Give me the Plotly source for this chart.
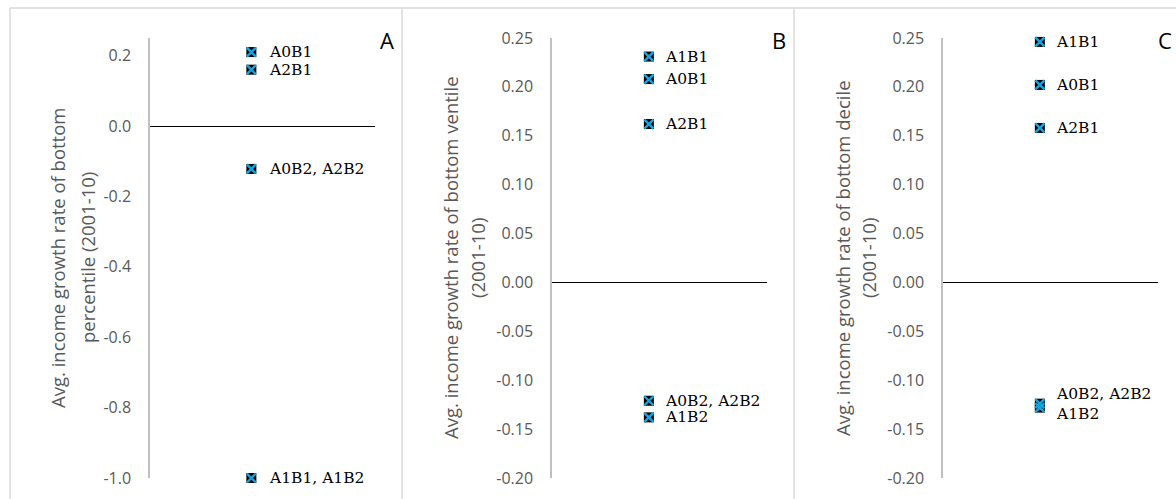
import plotly.graph_objects as go

# ---------------- data ----------------
panel_letters = ["A", "B", "C"]

a_labels = ["A0B1", "A2B1", "A0B2, A2B2", "A1B1, A1B2"]
a_values = [0.21, 0.16, -0.122, -1.0]

b_labels = ["A1B1", "A0B1", "A2B1", "A0B2, A2B2", "A1B2"]
b_values = [0.231, 0.208, 0.162, -0.121, -0.138]

c_labels = ["A1B1", "A0B1", "A2B1", "A0B2, A2B2<br>A1B2", ""]
c_values = [0.246, 0.202, 0.158, -0.124, -0.128]

a_ticks = [-1.0, -0.8, -0.6, -0.4, -0.2, 0.0, 0.2]
bc_ticks = [-0.20, -0.15, -0.10, -0.05, 0.00, 0.05, 0.10, 0.15, 0.20, 0.25]

title_lines = [
    ["Avg. income growth rate of bottom", "percentile (2001-10)"],
    ["Avg. income growth rate of bottom ventile", "(2001-10)"],
    ["Avg. income growth rate of bottom decile", "(2001-10)"],
]

# ---------------- layout helpers ----------------
W, H = 1176, 499
def px(x):
    return x / W
def py(y):
    return 1 - y / H

TICK_FONT = dict(family="Open Sans", size=16, color="#595959")
TITLE_FONT = dict(family="Open Sans", size=18.5, color="#595959")
LABEL_FONT = dict(family="DejaVu Serif", size=15.5, color="#000000")
BLUE = "#12A5E4"

panels = [
    dict(labels=a_labels, values=a_values, ticks=a_ticks, fmt="{:.1f}", rng=[-1.0, 0.25],
         ax0=150, ax1=375, title_xs=[57, 87], letter_x=387, shift=16),
    dict(labels=b_labels, values=b_values, ticks=bc_ticks, fmt="{:.2f}", rng=[-0.20, 0.25],
         ax0=552, ax1=767, title_xs=[450, 477], letter_x=779, shift=14),
    dict(labels=c_labels, values=c_values, ticks=bc_ticks, fmt="{:.2f}", rng=[-0.20, 0.25],
         ax0=943, ax1=1158, title_xs=[842, 868], letter_x=1165, shift=14),
]

fig = go.Figure()
annotations = []
layout_axes = {}

for i, p in enumerate(panels):
    n = i + 1
    xa = "x" if n == 1 else f"x{n}"
    ya = "y" if n == 1 else f"y{n}"
    xs = [1] * len(p["values"])
    fig.add_trace(go.Scatter(x=xs, y=p["values"], mode="markers", xaxis=xa, yaxis=ya,
                             marker=dict(symbol="square", size=10, color="black",
                                         line=dict(width=0)),
                             cliponaxis=False, showlegend=False, hoverinfo="skip"))
    fig.add_trace(go.Scatter(x=xs, y=p["values"], mode="markers", xaxis=xa, yaxis=ya,
                             marker=dict(symbol="x-thin", size=9,
                                         line=dict(width=2.4, color=BLUE)),
                             cliponaxis=False, showlegend=False, hoverinfo="skip"))
    for lab, v in zip(p["labels"], p["values"]):
        if not lab:
            continue
        annotations.append(dict(x=1, y=v, xref=xa, yref=ya, text=lab, showarrow=False,
                                xanchor="left", yanchor="middle", xshift=p["shift"],
                                font=LABEL_FONT, align="left"))
    ticktext = []
    for t in p["ticks"]:
        s = p["fmt"].format(round(t, 2) + 0.0)
        if s.startswith("-") and float(s) == 0:
            s = s[1:]
        ticktext.append(s)
    key = "" if n == 1 else str(n)
    layout_axes["xaxis" + key] = dict(domain=[px(p["ax0"]), px(p["ax1"])], range=[0, 2.22],
                                      visible=False, anchor=ya, fixedrange=True,
                                      automargin=False)
    layout_axes["yaxis" + key] = dict(domain=[py(478), py(38)], range=p["rng"], anchor=xa,
                                      tickvals=p["ticks"], ticktext=ticktext,
                                      showgrid=False, zeroline=True, zerolinecolor="#000000",
                                      zerolinewidth=1.2, showline=True, linecolor="#BFBFBF",
                                      linewidth=1.5, ticks="", tickfont=TICK_FONT,
                                      ticklabelstandoff=14, fixedrange=True,
                                      automargin=False)
    for line_text, tx in zip(title_lines[i], p["title_xs"]):
        annotations.append(dict(x=px(tx), y=py(258), xref="paper", yref="paper",
                                text=line_text, textangle=-90, showarrow=False,
                                xanchor="center", yanchor="middle", align="center",
                                font=TITLE_FONT))
    annotations.append(dict(x=px(p["letter_x"]), y=py(40), xref="paper", yref="paper",
                            text=panel_letters[i], showarrow=False,
                            xanchor="center", yanchor="middle",
                            font=dict(family="Open Sans", size=22, color="#000000")))

shapes = []
for x0 in [10, 402, 794]:
    shapes.append(dict(type="line", xref="paper", yref="paper", x0=px(x0), x1=px(x0),
                       y0=py(8), y1=0, line=dict(color="#D9D9D9", width=1.5)))
shapes.append(dict(type="line", xref="paper", yref="paper", x0=px(10), x1=1,
                   y0=py(8), y1=py(8), line=dict(color="#D9D9D9", width=1.5)))

fig.update_layout(template="none", width=W, height=H, autosize=False,
                  margin=dict(l=0, r=0, t=0, b=0, pad=0),
                  paper_bgcolor="white", plot_bgcolor="rgba(0,0,0,0)",
                  annotations=annotations, shapes=shapes, **layout_axes)

fig.write_html("out.html", config={"displayModeBar": False},
               post_script="document.body.style.margin='0';document.body.style.overflow='hidden';")
